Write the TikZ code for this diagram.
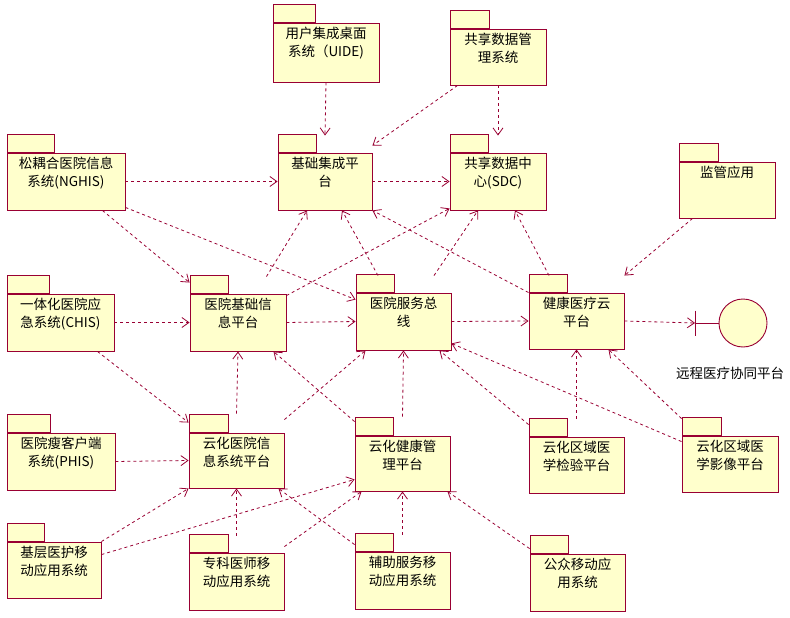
\documentclass[tikz,border=0pt]{standalone}
\usepackage{fontspec}
\newfontfamily\cjkfont{Noto Sans CJK SC}
\usepackage{tikz}
\usetikzlibrary{positioning, arrows.meta}
\usepackage{xcolor}
\definecolor{pkgred}{HTML}{990033}
\definecolor{pkgfill}{HTML}{FFFFCC}

\tikzset{
  pkg/.style={draw=pkgred, fill=pkgfill, line width=0.9pt, minimum width=95pt, minimum height=57pt,
    inner sep=0pt, label={[pkgname]north:{#1}}},
  withtab/.style={label={[pkgtab, minimum width=#1]north west:{}}},
  withtab/.default=38pt,
  pkgtab/.style={draw=pkgred, fill=pkgfill, line width=0.9pt, anchor=south west, minimum height=17.5pt, inner sep=0pt},
  pkgname/.style={anchor=north, align=center, inner sep=0pt, yshift=-4.5pt, font=\cjkfont\fontsize{13.5}{17.5}\selectfont},
  dep/.style={pkgred, line width=0.8pt, dash pattern=on 3pt off 3pt, -{Straight Barb[length=7pt,width=10pt]}},
}

\begin{document}
\begin{tikzpicture}[x=1pt, y=-1pt]
    \fill[white] (0,0) rectangle (790,618);
    \useasboundingbox (0,0) rectangle (790,618);

    % packages
    \node[pkg={用户集成桌面\\系统（UIDE)}, withtab=42pt, minimum width=106pt, minimum height=59pt] (uide) at (326,52.5) {};
    \node[pkg={共享数据管\\理系统}, withtab=39pt, minimum width=96pt, minimum height=56pt] (sdms) at (498,57) {};
    \node[pkg={松耦合医院信息\\系统(NGHIS)}, withtab=47pt, minimum width=118pt] (nghis) at (66,181.5) {};
    \node[pkg={基础集成平\\台}, withtab, minimum width=94pt] (bip) at (325,181.5) {};
    \node[pkg={共享数据中\\心(SDC)}, withtab, minimum width=96pt] (sdc) at (498,181.5) {};
    \node[pkg={监管应用}, withtab=39pt, minimum width=96pt, minimum height=56pt] (supv) at (727,190) {};
    \node[pkg={一体化医院应\\急系统(CHIS)}, withtab=42pt, minimum width=107pt] (chis) at (60.5,322.5) {};
    \node[pkg={医院基础信\\息平台}, withtab, minimum width=96pt] (hbip) at (238,322.5) {};
    \node[pkg={医院服务总\\线}, withtab] (hsb) at (403.5,321.5) {};
    \node[pkg={健康医疗云\\平台}, withtab, minimum height=56pt] (hmc) at (576.5,321) {};
    \node[pkg={医院瘦客户端\\系统(PHIS)}, withtab=43pt, minimum width=108pt] (phis) at (61,461.5) {};
    \node[pkg={云化医院信\\息系统平台}, withtab=39pt, minimum height=55pt] (chisp) at (236.5,460.5) {};
    \node[pkg={云化健康管\\理平台}, withtab, minimum height=55pt] (chmp) at (402.5,463.5) {};
    \node[pkg={云化区域医\\学检验平台}, withtab, minimum height=56pt] (rlab) at (576.5,465) {};
    \node[pkg={云化区域医\\学影像平台}, withtab=39pt, minimum width=96pt, minimum height=56pt] (rimg) at (730,464) {};
    \node[pkg={基层医护移\\动应用系统}, withtab=37pt, minimum width=94pt, minimum height=56pt] (pcm) at (54,570) {};
    \node[pkg={专科医师移\\动应用系统}, withtab=39pt] (smm) at (236.5,581.5) {};
    \node[pkg={辅助服务移\\动应用系统}, withtab] (asm) at (402.5,580.5) {};
    \node[pkg={公众移动应\\用系统}, withtab] (pmm) at (577.5,582.5) {};

    % interface
    \node[draw=pkgred, fill=pkgfill, circle, line width=0.9pt, minimum size=48pt, inner sep=0pt] (rmc) at (743,323) {};
    \coordinate (rmcbar) at (695,323);
    \draw[pkgred, line width=0.9pt] (rmcbar) -- (rmc.west);
    \draw[pkgred, line width=0.9pt] ([yshift=12.5pt]rmcbar) -- ([yshift=-12.5pt]rmcbar);
    \node[font=\cjkfont\fontsize{13.5}{17}\selectfont] (rmclabel) at (730,373) {远程医疗协同平台};

    % dependencies
    \draw[dep] (uide.south) -- ([yshift=17pt]bip.north);
    \draw[dep] ([xshift=8pt]sdms.south west) -- ([yshift=7pt]bip.north east);
    \draw[dep] (sdms.south) -- ([yshift=17pt]sdc.north);
    \draw[dep] (nghis.east) -- (bip.west);
    \draw[dep] (bip.east) -- (sdc.west);
    \draw[dep] ([xshift=-23pt]nghis.south east) -- ([yshift=11pt]hbip.north west);
    \draw[dep] ([yshift=3pt]nghis.south east) -- ([yshift=-7pt]hsb.north west);
    \draw[dep] ([xshift=14pt]supv.south west) -- ([yshift=17pt]hmc.north east);
    \draw[dep] (chis.east) -- (hbip.west);
    \draw[dep] (hbip.east) -- (hsb.west);
    \draw[dep] (hsb.east) -- (hmc.west);
    \draw[dep] (hmc.east) -- (rmcbar);
    \draw[dep] ([xshift=-20pt,yshift=17pt]hbip.north east) -- ([xshift=-18pt]bip.south);
    \draw[dep] ([yshift=-2pt]hbip.north east) -- ([yshift=2pt]sdc.south west);
    \draw[dep] ([xshift=-25.5pt,yshift=17pt]hsb.north) -- ([xshift=17pt]bip.south);
    \draw[dep] ([xshift=30.5pt,yshift=17pt]hsb.north) -- ([xshift=-20pt]sdc.south);
    \draw[dep] (hmc.north west) -- (bip.south east);
    \draw[dep] ([xshift=-27.5pt,yshift=17pt]hmc.north) -- ([xshift=17pt]sdc.south);
    \draw[dep] ([yshift=19pt]chisp.north) -- (hbip.south);
    \draw[dep] ([yshift=13pt]chisp.north east) -- ([xshift=10pt]hsb.south west);
    \draw[dep] ([yshift=14pt]chmp.north west) -- ([xshift=-13pt]hbip.south east);
    \draw[dep] ([yshift=19pt]chmp.north) -- (hsb.south);
    \draw[dep] ([yshift=12pt]rlab.north west) -- ([xshift=-12pt]hsb.south east);
    \draw[dep] ([yshift=18pt]rlab.north) -- (hmc.south);
    \draw[dep] ([yshift=-6pt]rimg.north west) -- ([yshift=7pt]hsb.south east);
    \draw[dep] ([yshift=17pt]rimg.north west) -- ([xshift=-16pt]hmc.south east);
    \draw[dep] ([xshift=-17pt]chis.south east) -- ([yshift=10pt]chisp.north west);
    \draw[dep] (phis.east) -- (chisp.west);
    \draw[dep] (pcm.north east) -- (chisp.south west);
    \draw[dep] ([yshift=-13pt]pcm.north east) -- ([yshift=12pt]chmp.south west);
    \draw[dep] ([yshift=17pt]smm.north) -- (chisp.south);
    \draw[dep] ([yshift=6pt]smm.north east) -- ([xshift=7pt]chmp.south west);
    \draw[dep] ([yshift=7pt]asm.north west) -- ([xshift=-6pt]chisp.south east);
    \draw[dep] ([yshift=17pt]asm.north) -- (chmp.south);
    \draw[dep] ([yshift=5pt]pmm.north west) -- ([xshift=-3pt]chmp.south east);
\end{tikzpicture}
\end{document}
